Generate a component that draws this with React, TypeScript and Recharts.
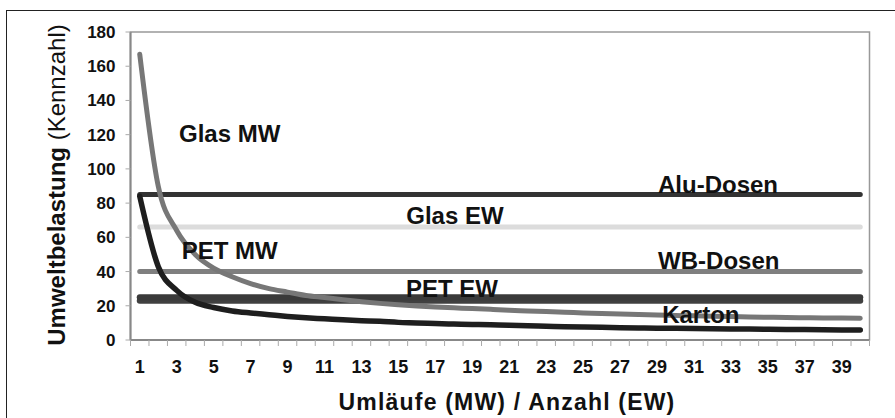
import { LineChart, Line, XAxis, YAxis, ReferenceArea, ReferenceDot } from "recharts";

const categories = [
  1, 2, 3, 4, 5, 6, 7, 8, 9, 10, 11, 12, 13, 14, 15, 16, 17, 18, 19, 20,
  21, 22, 23, 24, 25, 26, 27, 28, 29, 30, 31, 32, 33, 34, 35, 36, 37, 38, 39, 40,
];

const glasMW = [
  167, 90, 64, 50, 42, 37, 33, 30, 28, 26, 24.8, 23.5, 22.4, 21.4, 20.6, 19.9, 19.3, 18.8, 18.4, 17.9,
  17.4, 17.0, 16.6, 16.2, 15.8, 15.5, 15.2, 14.9, 14.6, 14.3, 14.1, 13.9, 13.7, 13.5, 13.3, 13.2, 13.0, 12.9, 12.8, 12.7,
];

const petMW = [
  84, 43, 29, 22, 19, 17, 15.8, 14.8, 13.8, 13, 12.4, 11.8, 11.3, 10.9, 10.3, 10.0, 9.6, 9.3, 9.1, 8.9,
  8.6, 8.3, 8.0, 7.8, 7.6, 7.4, 7.2, 7.0, 6.9, 6.8, 6.7, 6.6, 6.5, 6.4, 6.3, 6.2, 6.1, 6.0, 5.9, 5.8,
];

const aluDosen = 85;
const glasEW = 66;
const wbDosen = 40;
const petEW = 25;
const karton = 23;

const xTickLabels = [1, 3, 5, 7, 9, 11, 13, 15, 17, 19, 21, 23, 25, 27, 29, 31, 33, 35, 37, 39];
const yTicks = [0, 20, 40, 60, 80, 100, 120, 140, 160, 180];

// in-plot series names, placed in data units
const seriesLabels = [
  { text: "Glas MW", x: 5.87, y: 120.8 },
  { text: "Alu-Dosen", x: 32.3, y: 91.1 },
  { text: "Glas EW", x: 18.06, y: 72.6 },
  { text: "PET MW", x: 5.87, y: 52.4 },
  { text: "WB-Dosen", x: 32.34, y: 46.5 },
  { text: "PET EW", x: 17.9, y: 30.4 },
  { text: "Karton", x: 31.37, y: 15 },
];

const table = categories.map((c, i) => ({
  x: c,
  glasMW: glasMW[i],
  petMW: petMW[i],
  alu: aluDosen,
  glasEW: glasEW,
  wb: wbDosen,
  petEW: petEW,
  karton: karton,
}));

// tick marks sit on the category boundaries, labels on odd categories
const boundaries = Array.from({ length: categories.length + 1 }, (_, i) => i + 0.5);
const xTicks = [...boundaries, ...xTickLabels].sort((a, b) => a - b);

const FONT = '"Liberation Sans", Arial, sans-serif';

function XTick(props: any) {
  const { x, y, payload } = props;
  const v = payload.value;
  if (Number.isInteger(v)) {
    return (
      <text x={x} y={y} dy="0.71em" textAnchor="middle" fontSize={18} fontWeight="bold" fill="#111">
        {v}
      </text>
    );
  }
  return <line x1={x} x2={x} y1={y - 20} y2={y - 14} stroke="#aaa" strokeWidth={1} />;
}

function XTitle() {
  return (
    <text x={507} y={410} textAnchor="middle" fontSize={23} fontWeight="bold" letterSpacing={1.2} fill="#111">
      Umläufe (MW) / Anzahl (EW)
    </text>
  );
}

function YTitle() {
  return (
    <text x={65} y={185} transform="rotate(-90, 65, 185)" textAnchor="middle" fontSize={24} fill="#111">
      <tspan fontWeight="bold">Umweltbelastung</tspan>
      <tspan> (Kennzahl)</tspan>
    </text>
  );
}

export default function App() {
  return (
    <div
      style={{
        position: "absolute",
        left: 0,
        top: 0,
        width: 895,
        height: 418,
        overflow: "hidden",
        background: "#fff",
        fontFamily: FONT,
      }}
    >
      <div
        style={{
          position: "absolute",
          left: 6,
          top: 10,
          width: 920,
          height: 440,
          border: "1.5px solid #222",
          boxSizing: "border-box",
        }}
      />
      <LineChart
        width={895}
        height={418}
        data={table}
        margin={{ top: 32, right: 25.5, bottom: 38, left: 70.5 }}
        style={{ position: "absolute", left: 0, top: 0 }}
      >
        <XAxis
          dataKey="x"
          type="number"
          domain={[0.5, 40.5]}
          ticks={xTicks}
          interval={0}
          height={40}
          tickLine={false}
          tickSize={6}
          tickMargin={14}
          tick={<XTick />}
          axisLine={{ stroke: "#888", strokeWidth: 2 }}
          label={<XTitle />}
        />
        <YAxis
          type="number"
          domain={[0, 180]}
          ticks={yTicks}
          interval={0}
          width={60}
          tickSize={5}
          tickMargin={10}
          tickLine={{ stroke: "#aaa" }}
          axisLine={{ stroke: "#888", strokeWidth: 2 }}
          tick={{ fill: "#111", fontSize: 17, fontWeight: "bold" }}
          label={<YTitle />}
        />
        <ReferenceArea x1={0.5} x2={40.5} y1={0} y2={180} fill="none" stroke="#999" strokeWidth={1.5} />

        <Line dataKey="alu" type="linear" stroke="#333" strokeWidth={5} strokeLinecap="round" dot={false} activeDot={false} isAnimationActive={false} />
        <Line dataKey="glasEW" type="linear" stroke="#dcdcdc" strokeWidth={5} strokeLinecap="round" dot={false} activeDot={false} isAnimationActive={false} />
        <Line dataKey="wb" type="linear" stroke="#7f7f7f" strokeWidth={5} strokeLinecap="round" dot={false} activeDot={false} isAnimationActive={false} />
        <Line dataKey="karton" type="linear" stroke="#404040" strokeWidth={6} strokeLinecap="round" dot={false} activeDot={false} isAnimationActive={false} />
        <Line dataKey="petEW" type="linear" stroke="#3a3a3a" strokeWidth={6} strokeLinecap="round" dot={false} activeDot={false} isAnimationActive={false} />
        <Line dataKey="glasMW" type="monotone" stroke="#777" strokeWidth={5} strokeLinecap="round" dot={false} activeDot={false} isAnimationActive={false} />
        <Line dataKey="petMW" type="monotone" stroke="#1e1e1e" strokeWidth={5.5} strokeLinecap="round" dot={false} activeDot={false} isAnimationActive={false} />

        {seriesLabels.map((l) => (
          <ReferenceDot
            key={l.text}
            x={l.x}
            y={l.y}
            r={0}
            fill="none"
            stroke="none"
            ifOverflow="visible"
            label={{ value: l.text, position: "center", fontSize: 24, fontWeight: "bold", fill: "#111" }}
          />
        ))}
      </LineChart>
    </div>
  );
}
